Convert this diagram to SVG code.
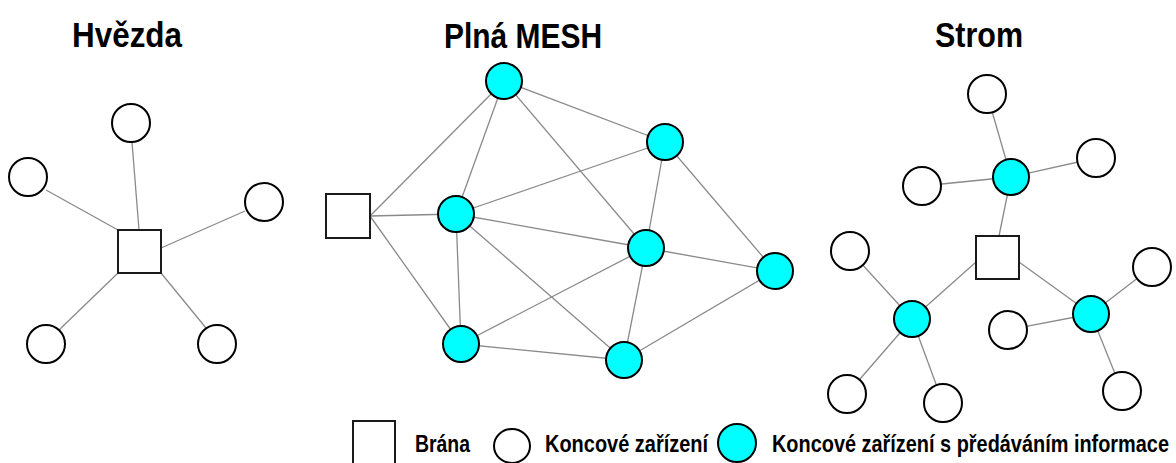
<svg xmlns="http://www.w3.org/2000/svg" width="1176" height="463" viewBox="0 0 1176 463">
  <style>
    .title { font-family: "Liberation Sans Narrow", "Liberation Sans", Arial, sans-serif; font-weight: bold; font-size: 35px; fill: #000; }
    .legend { font-family: "Liberation Sans Narrow", "Liberation Sans", Arial, sans-serif; font-weight: bold; font-size: 24px; fill: #000; }
    .link { stroke: #8a8a8a; stroke-width: 1.3; fill: none; }
    .gw { fill: #fff; stroke: #1a1a1a; stroke-width: 2; }
    .end { fill: #fff; stroke: #000; stroke-width: 2; }
    .relay { fill: #00ffff; stroke: #000; stroke-width: 2; }
  </style>
  <rect width="1176" height="463" fill="#fff"/>

  <!-- Titles -->
  <text class="title" x="127" y="47" text-anchor="middle" textLength="110" lengthAdjust="spacingAndGlyphs">Hvězda</text>
  <text class="title" x="523" y="48" text-anchor="middle" textLength="158" lengthAdjust="spacingAndGlyphs">Plná MESH</text>
  <text class="title" x="979" y="47" text-anchor="middle" textLength="88" lengthAdjust="spacingAndGlyphs">Strom</text>

  <!-- Connectors -->
  <g id="connectors">
    <!-- star -->
    <line class="link" x1="132" y1="142" x2="139" y2="230"/>
    <line class="link" x1="46" y1="190" x2="118" y2="230"/>
    <line class="link" x1="161" y1="248" x2="245" y2="211"/>
    <line class="link" x1="118" y1="273" x2="59" y2="330"/>
    <line class="link" x1="161" y1="273" x2="206" y2="328"/>
    <!-- full mesh -->
    <line class="link" x1="370" y1="216" x2="504" y2="81"/>
    <line class="link" x1="370" y1="216" x2="456" y2="214"/>
    <line class="link" x1="370" y1="216" x2="461" y2="344"/>
    <line class="link" x1="504" y1="81" x2="456" y2="214"/>
    <line class="link" x1="504" y1="81" x2="665" y2="142"/>
    <line class="link" x1="504" y1="81" x2="646" y2="248"/>
    <line class="link" x1="665" y1="142" x2="456" y2="214"/>
    <line class="link" x1="665" y1="142" x2="646" y2="248"/>
    <line class="link" x1="665" y1="142" x2="775" y2="271"/>
    <line class="link" x1="456" y1="214" x2="646" y2="248"/>
    <line class="link" x1="456" y1="214" x2="461" y2="344"/>
    <line class="link" x1="456" y1="214" x2="624" y2="360"/>
    <line class="link" x1="646" y1="248" x2="461" y2="344"/>
    <line class="link" x1="646" y1="248" x2="775" y2="271"/>
    <line class="link" x1="646" y1="248" x2="624" y2="360"/>
    <line class="link" x1="461" y1="344" x2="624" y2="360"/>
    <line class="link" x1="624" y1="360" x2="775" y2="271"/>
    <!-- tree -->
    <line class="link" x1="999" y1="236" x2="1011" y2="177"/>
    <line class="link" x1="976" y1="262" x2="912" y2="319"/>
    <line class="link" x1="1019" y1="262" x2="1091" y2="314"/>
    <line class="link" x1="1011" y1="177" x2="987" y2="94"/>
    <line class="link" x1="1011" y1="177" x2="922" y2="186"/>
    <line class="link" x1="1011" y1="177" x2="1096" y2="158"/>
    <line class="link" x1="912" y1="319" x2="850" y2="251"/>
    <line class="link" x1="912" y1="319" x2="847" y2="394"/>
    <line class="link" x1="912" y1="319" x2="943" y2="403"/>
    <line class="link" x1="1091" y1="314" x2="1152" y2="267"/>
    <line class="link" x1="1091" y1="314" x2="1008" y2="330"/>
    <line class="link" x1="1091" y1="314" x2="1122" y2="391"/>
  </g>

  <!-- Star topology -->
  <g id="star-gateway"><rect class="gw" x="118" y="230" width="43" height="43"/></g>
  <g id="star-n1"><circle class="end" cx="131" cy="123" r="19"/></g>
  <g id="star-n2"><circle class="end" cx="28" cy="177" r="19"/></g>
  <g id="star-n3"><circle class="end" cx="264" cy="202" r="19"/></g>
  <g id="star-n4"><circle class="end" cx="46" cy="344" r="19"/></g>
  <g id="star-n5"><circle class="end" cx="217" cy="344" r="19"/></g>

  <!-- Full mesh topology -->
  <g id="mesh-gateway"><rect class="gw" x="326" y="194" width="44" height="44"/></g>
  <g id="mesh-n1"><circle class="relay" cx="504" cy="81" r="18"/></g>
  <g id="mesh-n2"><circle class="relay" cx="665" cy="142" r="18"/></g>
  <g id="mesh-n3"><circle class="relay" cx="456" cy="214" r="18"/></g>
  <g id="mesh-n4"><circle class="relay" cx="646" cy="248" r="18"/></g>
  <g id="mesh-n5"><circle class="relay" cx="775" cy="271" r="18"/></g>
  <g id="mesh-n6"><circle class="relay" cx="461" cy="344" r="18"/></g>
  <g id="mesh-n7"><circle class="relay" cx="624" cy="360" r="18"/></g>

  <!-- Tree topology -->
  <g id="tree-gateway"><rect class="gw" x="976" y="236" width="43" height="43"/></g>
  <g id="tree-r1"><circle class="relay" cx="1011" cy="177" r="18"/></g>
  <g id="tree-r2"><circle class="relay" cx="912" cy="319" r="18"/></g>
  <g id="tree-r3"><circle class="relay" cx="1091" cy="314" r="18"/></g>
  <g id="tree-e1"><circle class="end" cx="987" cy="94" r="19"/></g>
  <g id="tree-e2"><circle class="end" cx="922" cy="186" r="19"/></g>
  <g id="tree-e3"><circle class="end" cx="1096" cy="158" r="19"/></g>
  <g id="tree-e4"><circle class="end" cx="850" cy="251" r="19"/></g>
  <g id="tree-e5"><circle class="end" cx="847" cy="394" r="19"/></g>
  <g id="tree-e6"><circle class="end" cx="943" cy="403" r="19"/></g>
  <g id="tree-e7"><circle class="end" cx="1152" cy="267" r="19"/></g>
  <g id="tree-e8"><circle class="end" cx="1008" cy="330" r="19"/></g>
  <g id="tree-e9"><circle class="end" cx="1122" cy="391" r="19"/></g>

  <!-- Legend -->
  <g id="legend-gateway">
    <rect class="gw" x="353" y="421" width="42" height="44"/>
    <text class="legend" x="415" y="452" textLength="55" lengthAdjust="spacingAndGlyphs">Brána</text>
  </g>
  <g id="legend-end">
    <ellipse class="end" cx="512" cy="446" rx="18" ry="17"/>
    <text class="legend" x="545" y="452" textLength="163" lengthAdjust="spacingAndGlyphs">Koncové zařízení</text>
  </g>
  <g id="legend-relay">
    <circle class="relay" cx="737" cy="443" r="19"/>
    <text class="legend" x="772" y="452" textLength="397" lengthAdjust="spacingAndGlyphs">Koncové zařízení s předáváním informace</text>
  </g>
</svg>
